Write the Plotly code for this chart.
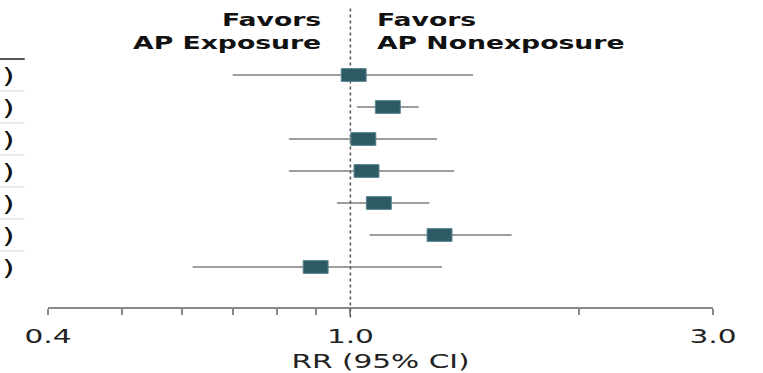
import math
import plotly.graph_objects as go

# ---- data ----
rr = [1.01, 1.12, 1.04, 1.05, 1.09, 1.31, 0.90]
ci_low = [0.70, 1.02, 0.83, 0.83, 0.96, 1.06, 0.62]
ci_high = [1.45, 1.23, 1.30, 1.37, 1.27, 1.63, 1.32]
row_labels = [")", ")", ")", ")", ")", ")", ")"]
tick_vals = [0.4, 0.5, 0.6, 0.7, 0.8, 0.9, 1.0, 2.0, 3.0]
tick_text = ["0.4", "", "", "", "", "", "1.0", "", "3.0"]
left_header = ["Favors", "AP Exposure"]
right_header = ["Favors", "AP Nonexposure"]
x_title = "RR (95% CI)"

FONT = "DejaVu Sans"
BOX = "#2e5a66"
W, H = 763, 373
ML, MR, MT, MB = 48, 50, 5, 66

fig = go.Figure()

rows = list(range(len(rr)))

# CI whiskers
xs, ys = [], []
for i in rows:
    xs += [ci_low[i], ci_high[i], None]
    ys += [i, i, None]
fig.add_trace(go.Scatter(x=xs, y=ys, mode="lines",
                         line=dict(color="#7d7d7d", width=1.4),
                         hoverinfo="skip", showlegend=False))

shapes = []
# reference line at RR = 1
shapes.append(dict(type="line", xref="x", yref="paper", x0=1, x1=1,
                   y0=-0.035, y1=0.99,
                   line=dict(color="#555555", width=1.5, dash="dot")))

# boxes (fixed pixel width -> constant factor on log axis)
half_w = math.exp(12.5 / 331.0)
for i in rows:
    shapes.append(dict(type="rect", xref="x", yref="y",
                       x0=rr[i] / half_w, x1=rr[i] * half_w,
                       y0=i - 0.2, y1=i + 0.2,
                       fillcolor=BOX, line=dict(color="#5a8590", width=1),
                       layer="above"))

# separators at the left edge
for i in rows:
    top = i == 0
    shapes.append(dict(type="line", xref="paper", yref="y",
                       x0=-0.075, x1=-0.035, y0=i - 0.5, y1=i - 0.5,
                       line=dict(color="#555555" if top else "#d6d6d6",
                                 width=2 if top else 1)))

annotations = []
for i in rows:
    annotations.append(dict(xref="paper", yref="y", x=-0.0722, y=i,
                            xanchor="left", yanchor="middle", align="left",
                            text=row_labels[i], showarrow=False,
                            font=dict(family=FONT, size=22, color="#111111")))

annotations.append(dict(xref="paper", yref="paper", x=0.4135, y=0.915,
                        xanchor="right", yanchor="middle", align="right",
                        text="<br>".join("<b>%s</b>" % s for s in left_header),
                        showarrow=False,
                        font=dict(family=FONT, size=18, color="#111111")))
annotations.append(dict(xref="paper", yref="paper", x=0.4917, y=0.915,
                        xanchor="left", yanchor="middle", align="left",
                        text="<br>".join("<b>%s</b>" % s for s in right_header),
                        showarrow=False,
                        font=dict(family=FONT, size=18, color="#111111")))

fig.update_layout(
    width=W, height=H,
    margin=dict(l=ML, r=MR, t=MT, b=MB),
    paper_bgcolor="white", plot_bgcolor="white",
    shapes=shapes, annotations=annotations,
    showlegend=False,
    xaxis=dict(type="log", range=[math.log10(0.4), math.log10(3.0)],
               tickmode="array", tickvals=tick_vals, ticktext=tick_text,
               ticks="outside", ticklen=6, tickwidth=1.5, tickcolor="#888888",
               showline=True, linecolor="#888888", linewidth=1.5,
               showgrid=False, zeroline=False, ticklabelstandoff=4,
               tickfont=dict(family=FONT, size=20, color="#222222"),
               title=dict(text=x_title, standoff=7,
                          font=dict(family=FONT, size=20, color="#222222"))),
    yaxis=dict(range=[7.25, -2.1875], visible=False, showgrid=False,
               zeroline=False),
)

# the reference typesetting is horizontally widened; widen the real SVG text
post = """
document.body.style.margin = '0';
var gd = document.getElementById('{plot_id}');
var S = 1.48;
gd.querySelectorAll('svg text').forEach(function(t) {
  if (!t.textContent) return;
  var a = t.getAttribute('text-anchor') || 'start';
  var bb = t.getBBox();
  var x0 = a === 'middle' ? bb.x + bb.width / 2 : (a === 'end' ? bb.x + bb.width : bb.x);
  var tr = t.getAttribute('transform') || '';
  t.setAttribute('transform', tr + ' translate(' + x0 + ',0) scale(' + S + ',1) translate(' + (-x0) + ',0)');
});
"""

fig.write_html("out.html", post_script=post, config={"displayModeBar": False})
